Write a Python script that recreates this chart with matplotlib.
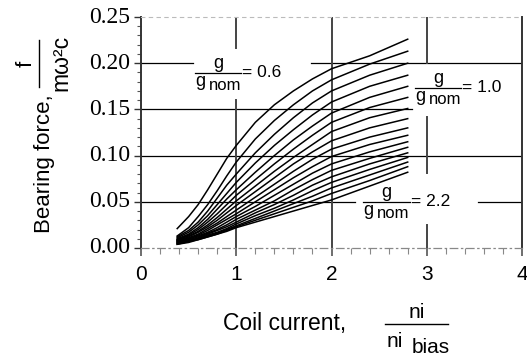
import matplotlib.pyplot as plt
from matplotlib.lines import Line2D
from matplotlib.ticker import MultipleLocator

plt.rcParams['font.family'] = ['Liberation Sans', 'DejaVu Sans']

# coil current ni/ni_bias where the curves were read
coil_current = [0.38, 0.5, 0.6, 0.7, 0.8, 0.9, 1.0, 1.2, 1.4, 1.6, 1.8, 2.0, 2.4, 2.8]

# bearing force f/(m w^2 c), one list per gap ratio g/g_nom
f_g06 = [0.021, 0.034, 0.047, 0.063, 0.080, 0.097, 0.111, 0.136, 0.155, 0.170, 0.183, 0.194, 0.208, 0.226]
f_g07 = [0.013, 0.022, 0.034, 0.047, 0.062, 0.078, 0.093, 0.118, 0.138, 0.155, 0.170, 0.182, 0.199, 0.213]
f_g08 = [0.012, 0.019, 0.028, 0.040, 0.054, 0.068, 0.080, 0.103, 0.123, 0.141, 0.157, 0.170, 0.187, 0.200]
f_g09 = [0.011, 0.017, 0.025, 0.035, 0.047, 0.059, 0.071, 0.092, 0.111, 0.128, 0.144, 0.158, 0.175, 0.187]
f_g10 = [0.010, 0.015, 0.022, 0.031, 0.042, 0.053, 0.063, 0.082, 0.100, 0.117, 0.132, 0.146, 0.163, 0.175]
f_g11 = [0.009, 0.014, 0.020, 0.028, 0.037, 0.047, 0.057, 0.074, 0.091, 0.107, 0.122, 0.136, 0.152, 0.163]
f_g12 = [0.009, 0.013, 0.018, 0.025, 0.033, 0.042, 0.051, 0.067, 0.083, 0.098, 0.112, 0.126, 0.141, 0.151]
f_g13 = [0.008, 0.012, 0.017, 0.023, 0.030, 0.038, 0.046, 0.061, 0.076, 0.091, 0.104, 0.116, 0.130, 0.140]
f_g14 = [0.008, 0.011, 0.015, 0.021, 0.027, 0.034, 0.041, 0.055, 0.069, 0.083, 0.096, 0.107, 0.120, 0.130]
f_g15 = [0.007, 0.010, 0.014, 0.019, 0.025, 0.031, 0.037, 0.050, 0.063, 0.076, 0.088, 0.099, 0.112, 0.122]
f_g16 = [0.007, 0.010, 0.013, 0.017, 0.022, 0.028, 0.034, 0.045, 0.057, 0.069, 0.081, 0.091, 0.104, 0.115]
f_g17 = [0.006, 0.009, 0.012, 0.016, 0.020, 0.025, 0.031, 0.041, 0.051, 0.063, 0.074, 0.084, 0.097, 0.109]
f_g18 = [0.006, 0.008, 0.011, 0.015, 0.019, 0.023, 0.028, 0.038, 0.047, 0.057, 0.068, 0.077, 0.091, 0.103]
f_g19 = [0.005, 0.008, 0.010, 0.014, 0.017, 0.021, 0.026, 0.035, 0.043, 0.052, 0.062, 0.071, 0.085, 0.098]
f_g20 = [0.005, 0.007, 0.010, 0.013, 0.016, 0.020, 0.024, 0.032, 0.040, 0.048, 0.056, 0.065, 0.079, 0.093]
f_g21 = [0.004, 0.007, 0.009, 0.012, 0.015, 0.019, 0.023, 0.030, 0.037, 0.044, 0.051, 0.059, 0.073, 0.088]
f_g22 = [0.004, 0.006, 0.009, 0.012, 0.015, 0.018, 0.022, 0.028, 0.034, 0.040, 0.046, 0.052, 0.067, 0.082]

curves = [f_g06, f_g07, f_g08, f_g09, f_g10, f_g11, f_g12, f_g13, f_g14,
          f_g15, f_g16, f_g17, f_g18, f_g19, f_g20, f_g21, f_g22]

x_ticks = [0, 1, 2, 3, 4]
y_ticks = [0.00, 0.05, 0.10, 0.15, 0.20, 0.25]
y_tick_labels = ['0.00', '0.05', '0.10', '0.15', '0.20', '0.25']

# labelled gap ratios: (value, bar start, bar end, bar height)
ratio_labels = [('0.6', 0.567, 1.05, 0.189),
                ('1.0', 2.877, 3.36, 0.173),
                ('2.2', 2.33, 2.82, 0.0498)]

# grid pieces, broken where the labels sit
h_grid = {0.20: [(0, 0.55), (1.78, 4)],
          0.15: [(0, 2.85)],
          0.10: [(0, 4)],
          0.05: [(0, 2.25), (3.54, 4)]}
v_grid = {1: [(0, 0.160), (0.216, 0.25)],
          2: [(0, 0.25)],
          3: [(0, 0.025), (0.081, 0.142), (0.200, 0.25)]}

SERIF = ['Liberation Serif', 'DejaVu Serif']


def ratio_label(ax, value, x0, x1, y):
    ax.plot([x0, x1], [y, y], color='black', lw=0.9, zorder=3)
    xc = (x0 + x1) / 2
    ax.annotate('g', (xc, y), xytext=(0, 1), textcoords='offset points',
                ha='center', va='bottom', fontsize=13)
    ax.annotate('g', (x0, y), xytext=(0.5, 0), textcoords='offset points',
                ha='left', va='top', fontsize=13)
    ax.annotate('nom', (x0, y), xytext=(10, -3), textcoords='offset points',
                ha='left', va='top', fontsize=12)
    ax.annotate('= ' + value, (x1, y), xytext=(1, 0.5), textcoords='offset points',
                ha='left', va='center', fontsize=12.5)


fig = plt.figure(figsize=(5.27, 3.56), dpi=100)
ax = fig.add_axes([0.2676, 0.3034, 0.7229, 0.6488])

for y, segs in h_grid.items():
    for a, b in segs:
        ax.plot([a, b], [y, y], color='black', lw=0.9, zorder=1)
for x, segs in v_grid.items():
    for a, b in segs:
        ax.plot([x, x], [a, b], color='#444444', lw=1.4, zorder=1)

for f in curves:
    ax.plot(coil_current, f, color='black', lw=1.1, zorder=2)

for lab in ratio_labels:
    ratio_label(ax, *lab)

ax.set_xlim(0, 4)
ax.set_ylim(0, 0.25)

ax.spines['left'].set_linewidth(1.4)
ax.spines['left'].set_color('#333333')
ax.spines['right'].set_linewidth(1.4)
ax.spines['right'].set_color('#333333')
ax.spines['bottom'].set_linestyle((0, (6, 3, 1, 3)))
ax.spines['bottom'].set_color('#888888')
ax.spines['bottom'].set_linewidth(0.9)
ax.spines['top'].set_linestyle((0, (3, 4)))
ax.spines['top'].set_color('#bbbbbb')
ax.spines['top'].set_linewidth(0.8)

ax.xaxis.set_minor_locator(MultipleLocator(0.2))
ax.yaxis.set_minor_locator(MultipleLocator(0.01))
ax.set_xticks(x_ticks)
ax.set_xticklabels([str(t) for t in x_ticks])
ax.set_yticks(y_ticks)
ax.tick_params(axis='y', which='major', direction='out', length=5, width=1,
               color='#333333', labelleft=False)
ax.tick_params(axis='y', which='minor', direction='out', length=3, width=0.8, color='#555555')
ax.tick_params(axis='x', which='major', direction='out', length=6, width=1.2, pad=6,
               color='#555555', labelsize=15)
ax.tick_params(axis='x', which='minor', direction='out', length=4, width=0.8, color='#888888')

# serif y tick labels, drawn as text so the family sticks
for yv, lab in zip(y_ticks, y_tick_labels):
    ax.annotate(lab, (0, yv), xycoords=ax.get_yaxis_transform(), xytext=(-7.5, 0),
                textcoords='offset points', ha='right', va='center',
                fontsize=17, family=SERIF, annotation_clip=False)

# x axis title with the ni / ni_bias fraction
fig.text(223 / 527, 1 - 330 / 356, 'Coil current,', fontsize=16.5, ha='left', va='baseline')
fig.text(417 / 527, 1 - 318 / 356, 'ni', fontsize=15, ha='center', va='baseline')
fig.add_artist(Line2D([385 / 527, 448 / 527], [1 - 324 / 356] * 2, color='black', lw=1.0))
fig.text(387 / 527, 1 - 347 / 356, 'ni', fontsize=15, ha='left', va='baseline')
fig.text(412 / 527, 1 - 353 / 356, 'bias', fontsize=15, ha='left', va='baseline')

# y axis title with the f / (m w^2 c) fraction
fig.text(50 / 527, 1 - 233 / 356, 'Bearing force,', fontsize=16, rotation=90,
         rotation_mode='anchor', ha='left', va='baseline')
fig.text(32 / 527, 1 - 64 / 356, 'f', fontsize=16, rotation=90,
         rotation_mode='anchor', ha='center', va='baseline')
fig.add_artist(Line2D([39 / 527] * 2, [1 - 87 / 356, 1 - 40 / 356], color='black', lw=1.0))
fig.text(67 / 527, 1 - 63 / 356, 'mω²c', fontsize=16.5, rotation=90,
         rotation_mode='anchor', ha='center', va='baseline')

fig.savefig('out.png', dpi=100)
